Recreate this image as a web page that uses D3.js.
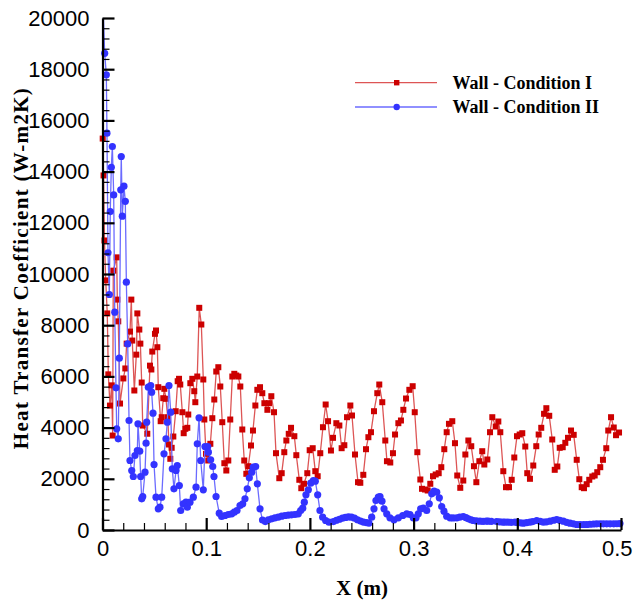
<!DOCTYPE html>
<html><head><meta charset="utf-8">
<script src="https://cdn.jsdelivr.net/npm/d3@7"></script>
<style>body{margin:0;background:#fff}svg{display:block}</style>
</head><body>
<svg id="c" width="633" height="602"></svg>
<script>
const xTicks = [0, 0.1, 0.2, 0.3, 0.4, 0.5];
const yTicks = [0, 2000, 4000, 6000, 8000, 10000, 12000, 14000, 16000, 18000, 20000];
const seriesNames = ["Wall - Condition I", "Wall - Condition II"];

const cond1X = [.0002,.0010,.0019,.0031,.0046,.0056,.0072,.0089,.0098,.0104,.0137,.0143,.0152,.0169,.0201,.0220,.0233,.0265,.0278,.0287,.0307,.0326,.0336,.0355,.0365,.0378,.0388,.0432,.0458,.0471,.0480,.0506,.0516,.0529,.0538,.0561,.0571,.0586,.0596,.0612,.0629,.0641,.0654,.0667,.0683,.0706,.0725,.0738,.0750,.0770,.0783,.0799,.0818,.0827,.0847,.0866,.0885,.0895,.0914,.0933,.0953,.0972,.0982,.0998,.1020,.1040,.1059,.1078,.1097,.1117,.1136,.1155,.1175,.1194,.1213,.1232,.1252,.1271,.1290,.1310,.1329,.1348,.1367,.1387,.1406,.1432,.1451,
.1474,.1493,.1519,.1541,.1561,.1590,.1606,.1628,.1654,.1673,.1705,.1728,.1753,.1773,.1796,.1818,.1850,.1869,.1898,.1917,.1943,.1975,.1998,.2027,.2052,.2075,.2100,.2126,.2152,.2175,.2203,.2223,.2255,.2284,.2306,.2332,.2358,.2390,.2406,.2435,.2464,.2486,.2515,.2541,.2564,.2589,.2618,.2650,.2669,.2698,.2727,.2743,.2775,.2801,.2821,.2853,.2878,.2901,.2927,.2959,.2991,.3011,.3036,.3065,.3081,.3110,.3136,.3161,.3187,.3213,.3242,.3267,.3296,.3319,.3341,
.3373,.3399,.3421,.3450,.3479,.3499,.3528,.3556,.3582,.3605,.3634,.3662,.3682,.3711,.3737,.3759,.3792,.3817,.3836,.3865,.3891,.3920,.3946,.3971,.3997,.4023,.4048,.4077,.4096,.4122,.4154,.4183,.4206,.4231,.4258,.4280,.4308,.4337,.4361,.4386,.4409,.4438,.4463,.4489,.4518,.4544,.4573,.4598,.4621,.4643,.4669,.4694,.4723,.4746,.4771,.4800,.4826,.4858,.4877,.4904,.4930,.4952,.4981];
const cond1Y = [15290,13850,11310,9750,8460,6080,4860,5650,3690,10130,10650,9000,8150,4940,5920,6310,7280,7750,9000,7400,5450,6850,8460,7830,7280,5760,4080,3760,6420,6270,6970,7663,7793,7140,5578,4250,4406,5148,5515,5125,4406,3340,2781,3211,3652,4640,5812,5906,5683,4601,3781,3953,3992,4511,5734,5906,5422,4992,5996,8679,8027,5879,4316,2976,2715,3367,4367,5097,6191,6359,5605,4211,2609,2324,2715,4316,5996,6101,6035,5996,5605,3926,2715,2195,2492,3301,3886,
4863,5476,5578,5344,4953,4695,4953,5226,4601,3000,2023,2219,3039,3496,3757,3992,3664,2922,1961,1633,1805,2219,3117,3195,2297,2101,3000,4015,4902,4250,3105,3601,4172,4082,3195,3312,4406,4863,4472,2949,1867,1844,2156,3156,3625,3820,4640,5344,5683,4992,3496,2687,2637,3000,3730,4172,4277,4695,5136,5476,5617,4601,3039,1973,1609,1582,1543,1805,2101,2168,2219,2453,3156,3820,4148,
4250,3391,2129,1648,1933,2949,3496,3273,2492,1867,2687,3078,2558,2754,3820,4406,4043,4238,3820,2297,1672,1672,1961,2832,3664,3730,3781,3261,2219,2000,2519,3273,3730,3992,4539,4758,4461,3535,2351,2480,3211,3234,3406,3601,3886,3718,2742,1984,1672,1633,1789,1961,2090,2129,2258,2453,2742,3195,3886,4406,4004,3703,3808];

const cond2X = [.0005,.0021,.0037,.0043,.0053,.0066,.0075,.0085,.0095,.0108,.0118,.0130,.0137,.0152,.0162,.0176,.0181,.0191,.0207,.0220,.0230,.0243,.0256,.0265,.0282,.0297,.0313,.0336,.0342,.0359,.0368,.0378,.0388,.0410,.0420,.0426,.0442,.0465,.0474,.0487,.0497,.0516,.0538,.0554,.0571,.0593,.0612,.0625,.0641,.0658,.0673,.0689,.0709,.0721,.0741,.0754,.0779,.0805,.0818,.0844,.0876,.0902,.0914,.0931,.0947,.0972,.0988,.1015,.1021,.1043,.1063,.1075,.1095,.1126,.1149,.1181,.1213,.1246,.1271,.1297,.1326,.1352,.1374,.1396,.1416,.1439,.1454,.1477,.1493,.1519,.1543,.1570,
.1599,.1632,.1663,.1695,.1728,.1760,.1792,.1824,.1856,.1888,.1911,.1931,.1946,.1962,.1985,.2008,.2033,.2052,.2075,.2097,.2123,.2152,.2184,.2227,.2256,.2285,.2314,.2343,.2372,.2401,.2430,.2459,.2488,.2517,.2546,.2570,.2596,.2618,.2637,.2660,.2676,.2695,.2715,.2741,.2772,.2811,.2853,.2895,.2934,.2965,.2997,.3023,.3045,.3068,.3094,.3126,.3151,.3175,.3197,.3223,.3248,.3271,.3293,.3319,
.3351,.3380,.3416,.3445,.3479,.3505,.3528,.3555,.3576,.3605,.3640,.3670,.3700,.3720,.3750,.3801,.3830,.3860,.3881,.3910,.3940,.3978,.4000,.4030,.4058,.4090,.4123,.4150,.4187,.4220,.4251,.4280,.4316,.4350,.4380,.4410,.4444,.4475,.4508,.4540,.4573,.4605,.4640,.4669,.4700,.4735,.4766,.4800,.4830,.4862,.4895,.4930,.4960,.4990];
const cond2Y = [20500,18620,17780,15500,10830,9200,12440,14170,14980,13090,8510,5554,3953,3562,6710,13290,14590,12260,13430,12840,9680,7270,4277,2715,2324,2090,2910,3105,4148,3078,2090,1219,1308,2258,3390,4211,5578,5644,5383,4562,2558,1281,828,891,1281,2976,3562,4211,5644,4601,2390,1609,2324,2519,1738,762,1023,1086,891,1086,1281,1672,3367,4383,2715,1570,3261,3261,3039,2742,2480,2090,1308,656,527,566,605,633,695,762,957,1023,1219,1609,2039,2258,2453,2480,1805,828,390,330,
398,437,476,500,539,566,578,594,605,633,762,852,1086,1375,1570,1828,1933,1906,1375,762,500,371,305,330,380,420,460,490,510,500,460,400,350,310,290,270,500,828,1152,1281,1308,1125,828,633,476,398,476,566,633,605,476,476,633,828,852,762,1023,1414,1516,1477,1258,918,734,539,
476,470,476,500,527,480,437,400,371,355,344,340,345,344,338,332,320,310,305,305,300,305,295,280,266,285,305,330,371,340,305,320,344,380,410,380,344,300,266,240,215,215,215,215,225,235,242,242,242,242,240,242,245,250];

const svg = d3.select("#c");
const x = d3.scaleLinear().domain([0, 0.5]).range([102.5, 621]);
const y = d3.scaleLinear().domain([0, 20000]).range([530, 18]);

svg.append("defs").append("clipPath").attr("id", "clip")
  .append("rect").attr("x", 95).attr("y", 18).attr("width", 535).attr("height", 520);

const d1 = cond1X.map((v, i) => [v, cond1Y[i]]);
const d2 = cond2X.map((v, i) => [v, cond2Y[i]]);
const line = d3.line().x(d => x(d[0])).y(d => y(d[1]));

const red = "#cc0000", redLine = "#dd5555", blue = "#3333ff", blueLine = "#6b6bff";

const g = svg.append("g");
g.append("path").datum(d1).attr("d", line).attr("fill", "none")
  .attr("stroke", redLine).attr("stroke-width", 1.3).attr("clip-path", "url(#clip)");
g.selectAll("rect.m1").data(d1.filter(d => d[1] <= 20000)).join("rect").attr("class", "m1")
  .attr("x", d => x(d[0]) - 3).attr("y", d => y(d[1]) - 3).attr("width", 6).attr("height", 6).attr("fill", red);
g.append("path").datum(d2).attr("d", line).attr("fill", "none")
  .attr("stroke", blueLine).attr("stroke-width", 1.3).attr("clip-path", "url(#clip)");
g.selectAll("circle.m2").data(d2.filter(d => d[1] <= 20000)).join("circle").attr("class", "m2")
  .attr("cx", d => x(d[0])).attr("cy", d => y(d[1])).attr("r", 3.6).attr("fill", blue);

// axes
const tickFont = "'Liberation Sans Narrow', 'Arial Narrow', 'Liberation Sans', Arial, sans-serif";
const yMinor = d3.range(0, 20001, 400).filter(v => v % 2000 !== 0);
const xMinor = d3.range(0, 0.5001, 0.02).filter((v, i) => i % 5 !== 0);

svg.append("g").attr("transform", "translate(102.5,0)")
  .call(d3.axisLeft(y).tickValues(yMinor).tickSize(-7).tickFormat(""))
  .call(s => s.select(".domain").remove())
  .call(s => s.selectAll("line").attr("stroke-width", 1.2));
svg.append("g").attr("transform", "translate(0,530)")
  .call(d3.axisBottom(x).tickValues(xMinor).tickSize(-7).tickFormat(""))
  .call(s => s.select(".domain").remove())
  .call(s => s.selectAll("line").attr("stroke-width", 1.2));

const ya = svg.append("g").attr("transform", "translate(102.5,0)")
  .call(d3.axisLeft(y).tickValues(yTicks).tickSizeInner(-12).tickSizeOuter(0).tickPadding(13).tickFormat(d3.format("d")));
const xa = svg.append("g").attr("transform", "translate(0,530)")
  .call(d3.axisBottom(x).tickValues(xTicks).tickSizeInner(-12).tickSizeOuter(0).tickPadding(10).tickFormat(d => d === 0 ? "0" : d3.format(".1f")(d)));
[ya, xa].forEach(a => {
  a.select(".domain").attr("stroke-width", 2.2);
  a.selectAll(".tick line").attr("stroke-width", 2.2);
  a.selectAll("text").attr("font-family", tickFont).attr("font-size", 22).attr("fill", "#000");
});
// keep the last x label inside the page
xa.selectAll(".tick text").filter(d => d === 0.5).attr("text-anchor", "end").attr("dx", 11);

// titles
const serif = "'Liberation Serif', 'Times New Roman', serif";
svg.append("text").attr("transform", "translate(28,268) rotate(-90)").attr("text-anchor", "middle")
  .attr("font-family", serif).attr("font-weight", "bold").attr("font-size", 21).attr("letter-spacing", 1.3)
  .text("Heat Transfer Coefficient (W-m2K)");
svg.append("text").attr("x", 362).attr("y", 595).attr("text-anchor", "middle")
  .attr("font-family", serif).attr("font-weight", "bold").attr("font-size", 21).text("X (m)");

// legend
const leg = svg.append("g");
const rows = [{name: seriesNames[0], y: 82.7, c: red, lc: redLine, shape: "sq"},
              {name: seriesNames[1], y: 107, c: blue, lc: blueLine, shape: "ci"}];
rows.forEach(r => {
  leg.append("line").attr("x1", 355).attr("x2", 437).attr("y1", r.y).attr("y2", r.y).attr("stroke", r.lc).attr("stroke-width", 1.3);
  if (r.shape === "sq") leg.append("rect").attr("x", 396.7 - 2.7).attr("y", r.y - 2.7).attr("width", 5.4).attr("height", 5.4).attr("fill", r.c);
  else leg.append("circle").attr("cx", 396.7).attr("cy", r.y).attr("r", 3.2).attr("fill", r.c);
  leg.append("text").attr("x", 452.5).attr("y", r.y + 5.9).attr("font-family", serif).attr("font-weight", "bold")
    .attr("font-size", 18).text(r.name);
});
</script>
</body></html>
